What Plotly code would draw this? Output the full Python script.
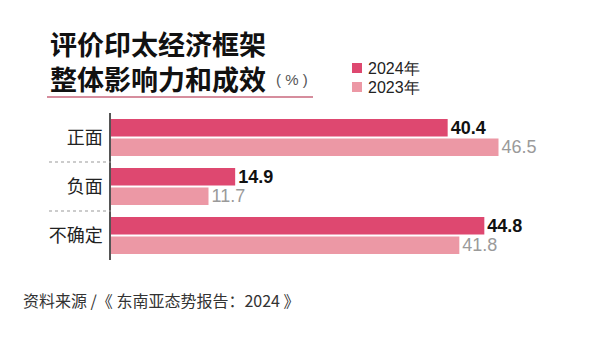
import plotly.graph_objects as go

categories = ["正面", "负面", "不确定"]
series_names = ["2024年", "2023年"]
series_colors = ["#de4870", "#ec98a5"]
values_2024 = [40.4, 14.9, 44.8]
values_2023 = [46.5, 11.7, 41.8]
title_lines = ["评价印太经济框架", "整体影响力和成效"]
unit_text = "( % )"
source_text = "资料来源 /《 东南亚态势报告：2024 》"

W, H = 600, 350
ML, MR, MT, MB = 111, 14, 113, 90
PW, PH = W - ML - MR, H - MT - MB
CJK = "Noto Sans CJK SC"
NUM = "Liberation Sans"

def px(x):
    return (x - ML) / PW

def py(y):
    return (H - MB - y) / PH

fig = go.Figure()
fig.add_trace(go.Bar(
    y=categories, x=values_2024, name=series_names[0], orientation="h",
    marker=dict(color=series_colors[0], line=dict(width=0)),
    text=[f"{v:.1f}" for v in values_2024], textposition="outside",
    constraintext="none",
    textfont=dict(family=NUM, size=18, color="#111111", weight="bold"),
    cliponaxis=False, hoverinfo="skip",
))
fig.add_trace(go.Bar(
    y=categories, x=values_2023, name=series_names[1], orientation="h",
    marker=dict(color=series_colors[1], line=dict(width=0)),
    text=[f"{v:.1f}" for v in values_2023], textposition="outside",
    constraintext="none",
    textfont=dict(family=NUM, size=18, color="#9a9a9a"),
    cliponaxis=False, hoverinfo="skip",
))

fig.update_layout(
    width=W, height=H,
    margin=dict(l=ML, r=MR, t=MT, b=MB, pad=0),
    paper_bgcolor="white", plot_bgcolor="white",
    barmode="group", bargap=0.2, bargroupgap=0.1,
    showlegend=False,
    font=dict(family=CJK),
)
fig.update_xaxes(range=[0, 57], visible=False, fixedrange=True)
fig.update_yaxes(
    autorange="reversed", showline=True, linecolor="#555555", linewidth=1.5,
    showgrid=False, zeroline=False, ticks="", ticklabelstandoff=3,
    tickfont=dict(family=CJK, size=18, color="#222222"), fixedrange=True,
)

# dotted separators between categories
for yv in [0.5, 1.5]:
    fig.add_shape(type="line", xref="paper", yref="y",
                  x0=px(49), x1=0, y0=yv, y1=yv,
                  line=dict(color="#999999", width=1, dash="dot"))

# title
fig.add_annotation(text="<b>" + "<br>".join(title_lines) + "</b>",
                   xref="paper", yref="paper",
                   x=px(48), y=py(61), xanchor="left", yanchor="middle", align="left",
                   showarrow=False, font=dict(family=CJK, size=27, color="#111111"))
fig.add_annotation(text=unit_text, xref="paper", yref="paper",
                   x=px(274), y=py(79), xanchor="left", yanchor="middle",
                   showarrow=False, font=dict(family=NUM, size=15, color="#555555"))
fig.add_shape(type="line", xref="paper", yref="paper",
              x0=px(47), x1=px(313), y0=py(97), y1=py(97),
              line=dict(color="#c8677d", width=1.5))

# legend (custom)
for i, (name, col) in enumerate(zip(series_names, series_colors)):
    yc = 68 + 19 * i
    fig.add_shape(type="rect", xref="paper", yref="paper",
                  x0=px(352), x1=px(362), y0=py(yc - 5), y1=py(yc + 5),
                  fillcolor=col, line=dict(width=0))
    fig.add_annotation(text=name, xref="paper", yref="paper",
                       x=px(366), y=py(yc), xanchor="left", yanchor="middle",
                       showarrow=False, font=dict(family=NUM, size=16, color="#222222"))

# source
fig.add_annotation(text=source_text, xref="paper", yref="paper",
                   x=px(21), y=py(300), xanchor="left", yanchor="middle",
                   showarrow=False, font=dict(family=CJK, size=16, color="#333333"))

fig.write_html("out.html")
